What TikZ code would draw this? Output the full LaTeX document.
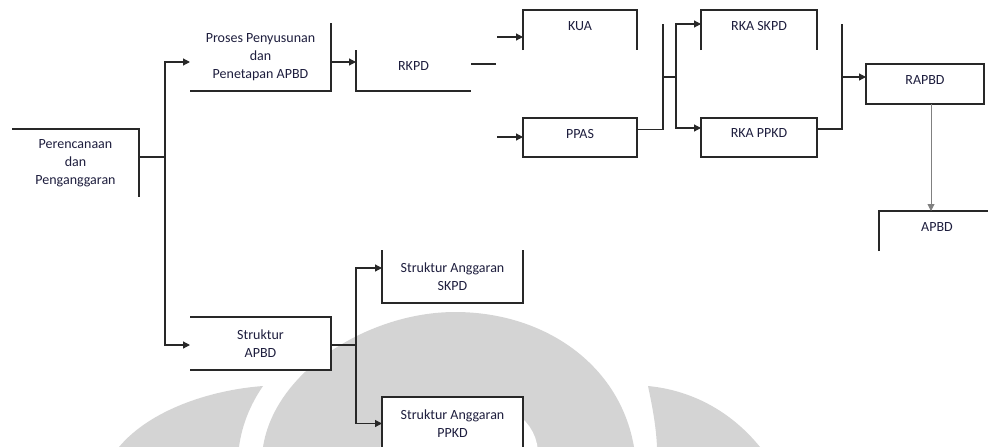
\documentclass[tikz,border=0pt]{standalone}
\usepackage{fontspec}
\setmainfont{Carlito}
\usepackage{tikz}
\usetikzlibrary{arrows.meta,calc,positioning}
\definecolor{inkline}{RGB}{40,40,40}
\definecolor{inktext}{RGB}{30,30,62}
\definecolor{markgray}{RGB}{212,212,212}

\begin{document}
\begin{tikzpicture}[x=1pt, y=-1pt, line join=miter, >={Triangle[length=7pt,width=7pt]},
    box/.style={fill=white, inner sep=0pt, outer sep=0pt, text=inktext, font=\fontsize{14}{18}\selectfont},
    onebox/.style={box, text depth=8pt},
    edge/.style={inkline, line width=1.2pt},
    arr/.style={edge, ->}]
    \useasboundingbox (0,0) rectangle (988,447);
    \clip (0,0) rectangle (988,447);

    % faint logo behind the chart
    \fill[markgray] (263,447) .. controls (275,370) and (370,312) .. (455,312) .. controls (545,312) and (620,365) .. (634,447) -- cycle;
    \draw[white, line width=26pt] (393,452) .. controls (395,424) and (425,411) .. (459,411) .. controls (493,411) and (523,424) .. (525,452);
    \fill[markgray] (119,447) .. controls (150,410) and (210,390) .. (263,386) .. controls (250,405) and (242,425) .. (239,447) -- cycle;
    \fill[markgray] (760,447) .. controls (730,410) and (690,390) .. (648,386) .. controls (652,405) and (656,425) .. (657,447) -- cycle;

    % boxes
    \node[box, align=center, minimum width=127pt, minimum height=68pt] (plan) at (75.5,163) {Perencanaan\\dan\\Penganggaran};
    \node[box, align=center, minimum width=141pt, minimum height=68pt] (proses) at (260.5,57) {Proses Penyusunan\\dan\\Penetapan APBD};
    \node[onebox, minimum width=115pt, minimum height=41pt] (rkpd) at (413.5,70.5) {RKPD};
    \node[onebox, minimum width=114pt, minimum height=40pt] (kua) at (580,30) {KUA};
    \node[onebox, minimum width=114pt, minimum height=39pt] (ppas) at (580,137.5) {PPAS};
    \node[onebox, minimum width=116pt, minimum height=40pt] (rkaskpd) at (759,30) {RKA SKPD};
    \node[onebox, minimum width=116pt, minimum height=39pt] (rkappkd) at (759,137.5) {RKA PPKD};
    \node[onebox, minimum width=118pt, minimum height=40pt] (rapbd) at (925,84) {RAPBD};
    \node[onebox, minimum width=116pt, minimum height=40pt] (apbd) at (937,231) {APBD};
    \node[box, align=center, minimum width=141pt, minimum height=53pt] (strapbd) at (260.5,343.5) {Struktur\\APBD};
    \node[box, align=center, minimum width=141pt, minimum height=53pt] (sagskpd) at (452.5,276.5) {Struktur Anggaran\\SKPD};
    \node[box, align=center, minimum width=141pt, minimum height=53pt] (sappkd) at (452.5,423.5) {Struktur Anggaran\\PPKD};

    % visible box sides
    \draw[edge] (plan.north west) -- (plan.north east) -- (plan.south east);
    \draw[edge] (proses.north east) -- (proses.south east) -- (proses.south west);
    \draw[edge] (rkpd.north west) -- (rkpd.south west) -- (rkpd.south east);
    \draw[edge] (kua.south west) -- (kua.north west) -- (kua.north east) -- (kua.south east);
    \draw[edge] (ppas.south west) rectangle (ppas.north east);
    \draw[edge] (rkaskpd.south west) -- (rkaskpd.north west) -- (rkaskpd.north east) -- (rkaskpd.south east);
    \draw[edge] (rkappkd.south west) rectangle (rkappkd.north east);
    \draw[edge] (rapbd.south west) rectangle (rapbd.north east);
    \draw[edge] (apbd.south west) -- (apbd.north west) -- (apbd.north east);
    \draw[edge] (strapbd.north west) -- (strapbd.north east) -- (strapbd.south east) -- (strapbd.south west);
    \draw[edge] (sagskpd.north west) -- (sagskpd.south west) -- (sagskpd.south east) -- (sagskpd.north east);
    \draw[edge] (sappkd.south west) -- (sappkd.north west) -- (sappkd.north east) -- (sappkd.south east);

    % left branch
    \coordinate (busA) at (165,157);
    \draw[edge] ([yshift=6pt]plan.east) -- (busA);
    \draw[arr] (busA) |- ([yshift=-5pt]proses.west);
    \draw[arr] (busA) |- ([yshift=-1.5pt]strapbd.west);

    % upper chain
    \coordinate (p1) at ([yshift=-5pt]proses.east);
    \draw[arr] (p1) -- (p1 -| rkpd.west);
    \coordinate (r1) at ([yshift=6.5pt]rkpd.east);
    \coordinate (rkpdend) at (496,0);
    \draw[edge] (r1) -- (r1 -| rkpdend);
    \coordinate (kuafeed) at (497,37);
    \draw[arr] (kuafeed) -- (kuafeed -| kua.west);
    \coordinate (ppasfeed) at (497,137);
    \draw[arr] (ppasfeed) -- (ppasfeed -| ppas.west);

    \coordinate (p2) at ([yshift=8pt]ppas.east);
    \coordinate (busB) at (663,24);
    \draw[edge] (p2) -| (busB);
    \coordinate (busC) at (676,77);
    \draw[edge] (busC -| busB) -- (busC);
    \draw[arr] (busC) |- ([yshift=6pt]rkaskpd.west);
    \draw[arr] (busC) |- ([yshift=9.5pt]rkappkd.west);

    \coordinate (p3) at ([yshift=8.5pt]rkappkd.east);
    \coordinate (busD) at (842,24);
    \draw[edge] (p3) -| (busD);
    \coordinate (p4) at ([yshift=7pt]rapbd.west);
    \draw[arr] (p4 -| busD) -- (p4);
    \coordinate (p5) at ([xshift=6pt]rapbd.south);
    \draw[arr, gray, line width=0.9pt] (p5) -- (p5 |- apbd.north);

    % lower chain
    \coordinate (p6) at ([yshift=-1.5pt]strapbd.east);
    \coordinate (busE) at (356,345);
    \draw[edge] (p6) -- (busE);
    \draw[arr] (busE) |- ([yshift=8.5pt]sagskpd.west);
    \draw[arr] (busE) |- (sappkd.west);
\end{tikzpicture}
\end{document}
